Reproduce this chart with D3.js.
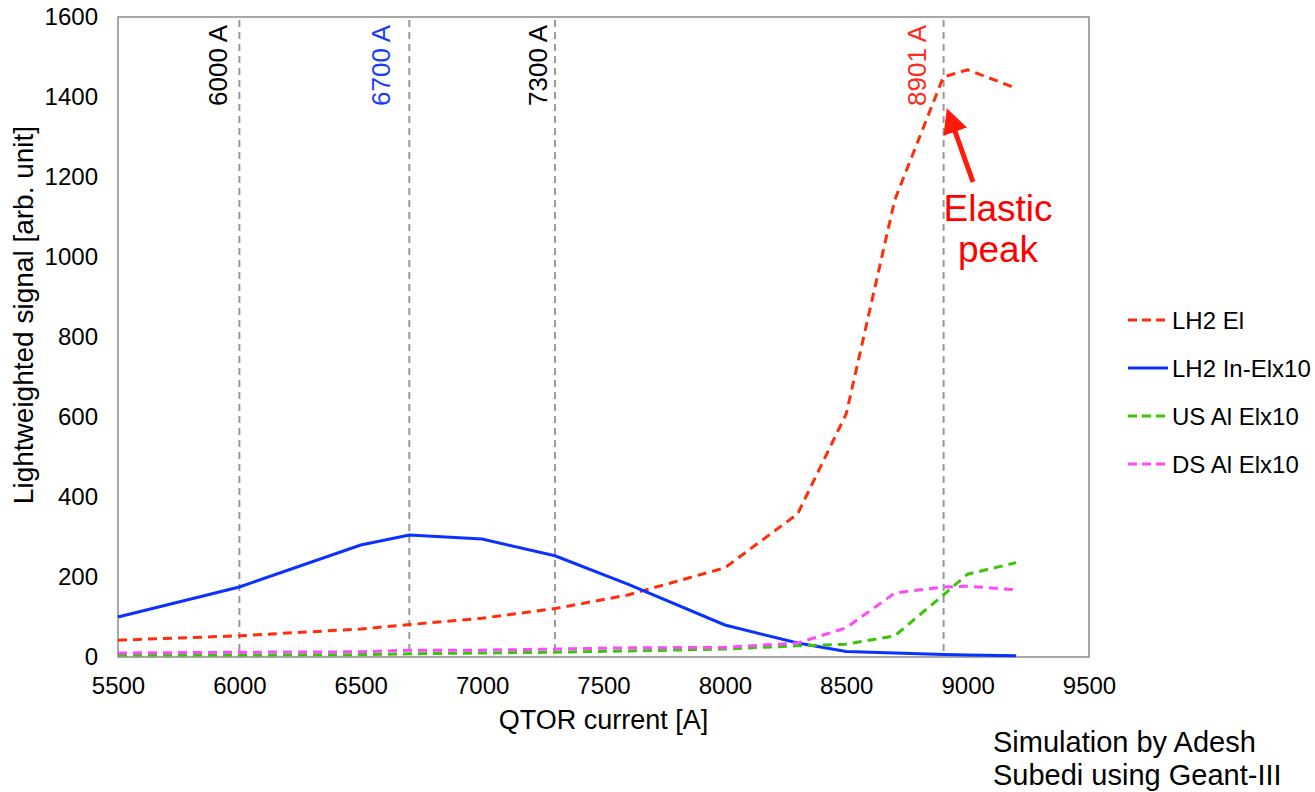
<!DOCTYPE html>
<html><head><meta charset="utf-8">
<script src="https://cdn.jsdelivr.net/npm/d3@7"></script>
<style>
body{margin:0;background:#fff;}
svg text{font-family:"Liberation Sans",Arial,sans-serif;}
</style></head>
<body>
<svg id="c" width="1315" height="792"></svg>
<script>
const currents = [5500,6000,6500,6700,7000,7300,7600,8000,8300,8500,8700,8900,9000,9200];
const lh2El = [42,53,70,81,97,121,155,223,358,608,1143,1450,1468,1422];
const lh2InEl = [100,175,280,305,295,253,182,80,35,14,10,6,5,3];
const usAl = [5,5,6,8,10,12,15,20,28,32,53,155,207,236];
const dsAl = [10,12,13,17,17,20,23,24,35,73,160,175,177,168];
const seriesNames = ["LH2 El","LH2 In-Elx10","US Al Elx10","DS Al Elx10"];
const xTicks = [5500,6000,6500,7000,7500,8000,8500,9000,9500];
const yTicks = [0,200,400,600,800,1000,1200,1400,1600];
const markers = [6000,6700,7300,8901];
const markerLabels = ["6000 A","6700 A","7300 A","8901 A"];

const svg = d3.select("#c");
const L=118, R=1089, T=17, B=657;
const x = d3.scaleLinear().domain([5500,9500]).range([L,R]);
const y = d3.scaleLinear().domain([0,1600]).range([B,T]);

const colors = ["#ff2d0a","#0a32ff","#3ac40a","#ff48ff"];
const dashes = ["9,6",null,"9,6","9,6"];
const data = [lh2El,lh2InEl,usAl,dsAl];
const FONT = "Liberation Sans, Arial, sans-serif";

// frame
svg.append("rect").attr("x",L).attr("y",T).attr("width",R-L).attr("height",B-T)
  .attr("fill","none").attr("stroke","#8a8a8a").attr("stroke-width",1.5);

// axes
const xa = svg.append("g").attr("transform",`translate(0,${B})`)
  .call(d3.axisBottom(x).tickValues(xTicks).tickSize(0).tickPadding(20).tickFormat(d3.format("d")));
xa.select(".domain").remove();
xa.selectAll("text").attr("font-size",24).attr("fill","#000").attr("font-family",FONT);
const ya = svg.append("g").attr("transform",`translate(${L},0)`)
  .call(d3.axisLeft(y).tickValues(yTicks).tickSize(0).tickPadding(20).tickFormat(d3.format("d")));
ya.select(".domain").remove();
ya.selectAll("text").attr("font-size",24).attr("fill","#000").attr("font-family",FONT);

// axis titles
svg.append("text").attr("x",(L+R)/2).attr("y",729).attr("text-anchor","middle")
  .attr("font-size",27).text("QTOR current [A]");
svg.append("text").attr("transform","translate(33,315) rotate(-90)").attr("text-anchor","middle")
  .attr("font-size",28).text("Lightweighted signal [arb. unit]");

// vertical markers
const markerColors = ["#000","#1a3cff","#000","#ff2a1a"];
const labelGap = [12,19,8,18];
markers.forEach((m,i)=>{
  svg.append("line").attr("x1",x(m)).attr("x2",x(m)).attr("y1",T+3).attr("y2",B)
    .attr("stroke","#999").attr("stroke-width",2).attr("stroke-dasharray","7,5");
  svg.append("text").attr("transform",`translate(${x(m)-labelGap[i]},25) rotate(-90)`)
    .attr("text-anchor","end").attr("font-size",26).attr("fill",markerColors[i]).text(markerLabels[i]);
});

// series
const line = d3.line().x((d,i)=>x(currents[i])).y(d=>y(d));
data.forEach((s,k)=>{
  svg.append("path").datum(s).attr("d",line).attr("fill","none")
    .attr("stroke",colors[k]).attr("stroke-width",3)
    .attr("stroke-dasharray",dashes[k]);
});

// legend
seriesNames.forEach((n,k)=>{
  const yy = 320 + k*48;
  svg.append("line").attr("x1",1128).attr("x2",1168).attr("y1",yy).attr("y2",yy)
    .attr("stroke",colors[k]).attr("stroke-width",3).attr("stroke-dasharray",dashes[k]?"9,5":null);
  svg.append("text").attr("x",1172).attr("y",yy+9).attr("font-size",24).text(n);
});

// annotation arrow
const defs = svg.append("defs");
defs.append("marker").attr("id","ah").attr("viewBox","0 0 10 10").attr("refX",5).attr("refY",5)
  .attr("markerWidth",5).attr("markerHeight",5).attr("orient","auto")
  .append("path").attr("d","M0,0 L10,5 L0,10 z").attr("fill","#ff1a0a");
svg.append("line").attr("x1",973).attr("y1",182).attr("x2",951).attr("y2",120)
  .attr("stroke","#ff1a0a").attr("stroke-width",5).attr("marker-end","url(#ah)");
svg.append("text").attr("x",998).attr("y",221).attr("text-anchor","middle")
  .attr("font-size",37).attr("fill","#ff0000").text("Elastic");
svg.append("text").attr("x",998).attr("y",262).attr("text-anchor","middle")
  .attr("font-size",37).attr("fill","#ff0000").text("peak");

// credit
svg.append("text").attr("x",993).attr("y",752).attr("font-size",29).text("Simulation by Adesh");
svg.append("text").attr("x",993).attr("y",785).attr("font-size",29).text("Subedi using Geant-III");
</script>
</body></html>
